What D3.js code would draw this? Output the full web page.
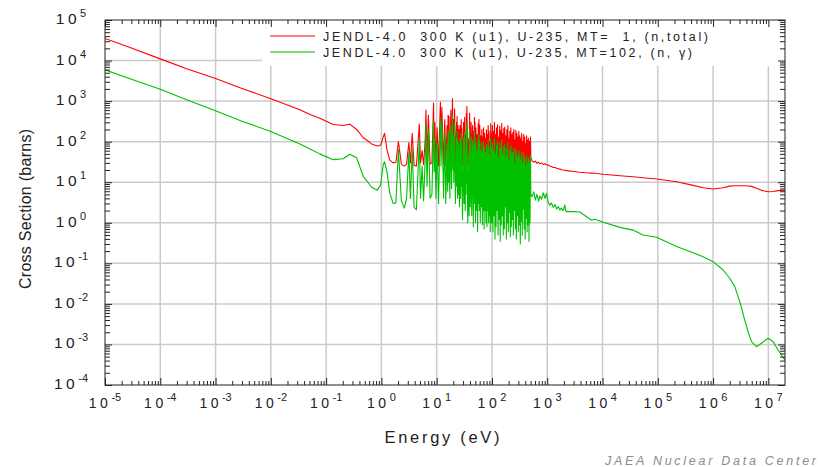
<!DOCTYPE html>
<html>
<head>
<meta charset="utf-8">
<script src="https://cdn.jsdelivr.net/npm/d3@7"></script>
<style>
  body { margin: 0; background: #fff; }
  svg { display: block; }
  text { font-family: "Liberation Sans", Arial, sans-serif; }
</style>
</head>
<body>
<svg id="chart" width="822" height="467"></svg>
<script>
// ---- Evaluated cross sections, U-235 at 300 K (energy in eV, cross sections in barns) ----
const energy = [
  // thermal / 1/v region
  1e-5, 3e-5, 1e-4, 3e-4, 1e-3, 3e-3, 1e-2, 0.0336, 0.051, 0.077, 0.134, 0.204, 0.269, 0.356,
  0.469, 0.54, 0.665, 0.84, 0.967, 1.078, 1.14, 1.27, 1.42, 1.63, 1.83,
  // resolved resonances 2 - 100 eV
  2.03, 2.3, 2.6, 2.85, 3.14, 3.35, 3.61, 3.9, 4.3, 4.85, 5.1, 5.45, 5.8, 6.21, 6.39, 6.7, 7.08,
  7.6, 8.2, 8.78, 9.0, 9.28, 9.7, 10.18, 10.8, 11.66, 12.0, 12.39, 12.86, 13.3, 14.0, 14.6, 15.4,
  15.8, 16.08, 16.4, 16.67, 17.3, 18.05, 18.6, 19.3, 19.8, 20.1, 20.4, 20.6, 20.9, 21.07, 21.8,
  22.9, 23.1, 23.4, 23.9, 24.3, 24.8, 25.3, 25.9, 26.5, 27.1, 27.8, 28.0, 28.3, 29.3, 30.6, 31.3,
  32.1, 32.8, 33.5, 34.0, 34.4, 34.8, 35.2, 36.5, 38.0, 38.6, 39.4, 40.5, 41.9, 43.0, 44.6, 46.0,
  47.0, 47.7, 48.2, 48.8, 49.4, 50.3, 51.3, 52.5, 53.4, 55.0, 56.5, 57.3, 58.1, 59.0, 60.2, 61.5,
  63.0, 64.2, 65.7, 67.0, 68.5, 69.5, 70.5, 72.0, 73.5, 75.0, 76.5, 78.0, 79.5, 81.0, 82.5, 84.0,
  85.5, 87.0, 88.5, 90.0, 91.5, 93.0, 95.0, 97.0, 99.0,
  // resolved resonances 100 - 500 eV
  100, 102, 104, 106.5, 109, 111, 113.5, 116, 118.5, 121, 123.5, 126, 129, 132, 135, 138, 141,
  144, 147, 150, 153, 156.5, 160, 163.5, 167, 170.5, 174, 178, 182, 186, 190, 194, 198, 202, 206,
  210.5, 215, 219.5, 224, 229, 234, 239, 244, 249, 254, 259.5, 265, 270.5, 276, 282, 288, 294,
  300, 306, 312.5, 319, 325.5, 332, 339, 346, 353, 360, 367.5, 375, 383, 391, 399, 407, 415.5,
  424, 432.5, 441, 450, 459, 468.5, 478, 488, 498,
  // unresolved resonance region
  505, 530, 570, 610, 650, 700, 735, 790, 850, 910, 970, 1040, 1110, 1190, 1280, 1380, 1480,
  1590, 1690, 1800, 1940, 2080, 2150, 2230, 3000, 3890, 5000, 6330, 7300,
  // fast region
  1.03e4, 2.06e4, 3.57e4, 5.42e4, 9.5e4, 2.18e5, 4e5, 6.6e5, 1e6, 1.52e6, 2e6, 2.47e6, 3.04e6,
  3.74e6, 4.3e6, 4.95e6, 6.1e6, 7.5e6, 9.9e6, 1.22e7, 1.5e7, 2e7
];

// MT=1, total
const totalXS = [
  35000, 20500, 11000, 6300, 3600, 2050, 1150, 610, 470, 380, 265, 250, 270, 200,
  125, 110, 88, 78, 82, 130, 160, 60, 35, 30, 31,
  100, 28, 25, 28, 95, 30, 160, 26, 25, 270, 30, 60, 27, 120, 600, 40, 450,
  28, 30, 900, 60, 300, 28, 220, 26, 950, 80, 700, 130, 28, 350, 25, 250,
  40, 450, 50, 420, 27, 600, 40, 1150, 90, 350, 60, 300, 80, 650, 27,
  300, 50, 420, 32, 250, 40, 200, 28, 250, 32, 350, 60, 220, 26, 300, 35,
  400, 30, 150, 45, 500, 80, 750, 26, 120, 28, 500, 35, 300, 30, 250, 26,
  180, 35, 400, 55, 300, 26, 220, 30, 150, 25, 280, 35, 350, 30, 250, 26,
  140, 30, 200, 26, 130, 30, 220, 25, 160, 30, 120, 26, 200, 26, 150, 30,
  250, 26, 180, 30, 100, 25, 280, 26, 160,
  25, 250, 30, 180, 22, 300, 35, 150, 28, 220, 20, 260, 32, 130, 26, 240, 24,
  190, 30, 280, 22, 160, 28, 210, 34, 230, 24, 140, 27, 200, 21, 250, 30, 120, 25,
  180, 28, 220, 22, 150, 26, 170, 30, 200, 24, 110, 27, 190, 22, 160, 29, 130,
  25, 180, 23, 140, 28, 120, 24, 160, 26, 100, 22, 150, 27, 130, 25, 90, 23,
  140, 26, 110, 24, 120, 28, 100, 25, 130,
  40, 34, 31, 33, 29.5, 31, 28.5, 30, 27.5, 28.5, 26.6, 26.5, 25, 24.5, 23, 23, 22,
  21.5, 21, 20.5, 20, 19.8, 19.6, 19.3, 18.3, 17.6, 17.1, 16.8, 16.6,
  15.7, 14.5, 13.6, 12.9, 12.0, 10.3, 8.6, 7.3, 6.8, 7.3, 8.0, 8.2, 8.2,
  8.2, 8.1, 7.9, 7.1, 6.3, 5.8, 5.9, 6.2, 6.4
];

// MT=102, (n,gamma)
const captureXS = [
  5900, 3450, 1950, 1080, 580, 320, 178, 88, 66, 50, 36, 38, 49, 40,
  14, 11, 7.5, 6.4, 8.5, 27, 32, 17, 5.4, 3.0, 3.1,
  62, 3.5, 2.3, 4, 55, 4, 70, 2.4, 2.1, 110, 4, 25, 3.5, 40, 260, 8, 200,
  4, 5, 320, 18, 120, 4, 90, 3, 380, 25, 280, 50, 4, 150, 3, 90,
  6, 170, 10, 190, 4, 240, 7, 450, 20, 140, 10, 130, 18, 280, 3,
  120, 8, 180, 4, 100, 5, 80, 2.5, 120, 4, 160, 8, 90, 1.2, 120, 3,
  170, 2, 60, 5, 200, 10, 300, 1.0, 50, 1.5, 200, 2.5, 130, 1.5, 110, 0.8,
  80, 3, 170, 6, 120, 1.0, 90, 2, 60, 0.6, 120, 3, 150, 2, 100, 1,
  60, 2.5, 90, 0.9, 55, 2, 100, 0.7, 70, 2, 50, 1, 85, 0.8, 65, 2,
  110, 1, 75, 1.5, 45, 0.6, 120, 1, 70,
  1.0, 90, 0.6, 60, 1.5, 120, 0.4, 50, 0.8, 80, 2.0, 100, 0.5, 40, 1.2, 90, 0.35,
  70, 0.9, 110, 1.5, 50, 0.5, 75, 0.7, 85, 2.5, 45, 0.4, 70, 1.0, 95, 0.6, 35, 1.8,
  60, 0.45, 80, 0.8, 50, 1.2, 55, 0.5, 70, 2.0, 30, 0.7, 65, 0.4, 50, 1.5, 40,
  0.6, 60, 0.9, 45, 0.3, 35, 1.1, 55, 0.5, 30, 2.2, 50, 0.7, 40, 0.4, 25, 1.3,
  45, 0.6, 30, 0.9, 40, 0.35, 30, 1.0, 45,
  5, 4.4, 5.8, 3.6, 5.0, 3.4, 4.6, 3.8, 5.5, 4.0, 5.3, 3.2, 2.7, 3.1, 2.4, 2.8, 2.2,
  2.5, 2.07, 2.3, 2.0, 2.75, 2.0, 1.88, 1.88, 1.85, 1.45, 1.15, 1.22,
  1.03, 0.77, 0.66, 0.50, 0.44, 0.26, 0.19, 0.146, 0.110, 0.0686, 0.0428, 0.0266, 0.0114,
  0.0040, 0.00207, 0.00117, 0.00088, 0.00107, 0.00142, 0.00117, 0.00073, 0.00041
];

// Axis decades and legend entries
const xTickExps = [-5, -4, -3, -2, -1, 0, 1, 2, 3, 4, 5, 6, 7];
const yTickExps = [-4, -3, -2, -1, 0, 1, 2, 3, 4, 5];
const seriesLabels = [
  "JENDL-4.0  300 K (u1), U-235, MT=  1, (n,total)",
  "JENDL-4.0  300 K (u1), U-235, MT=102, (n, \u03b3)"
];
const seriesColors = ["#ff0000", "#00c000"];

// ---- Layout ----
const svg = d3.select("#chart");
const plot = { left: 105, right: 785, top: 20, bottom: 385 };
const x = d3.scaleLog().domain([1e-5, 2e7]).range([plot.left, plot.right]);
const y = d3.scaleLog().domain([1e-4, 1e5]).range([plot.bottom, plot.top]);

svg.append("rect").attr("width", 822).attr("height", 467).attr("fill", "#fff");

// decade grid
const grid = svg.append("g").attr("stroke", "#cbcbcb").attr("stroke-width", 1.5);
xTickExps.map(e => 10 ** e).filter(v => v > 1e-5 && v < 2e7).forEach(v => {
  grid.append("line").attr("x1", x(v)).attr("x2", x(v))
    .attr("y1", plot.top).attr("y2", plot.bottom);
});
yTickExps.map(e => 10 ** e).filter(v => v > 1e-4 && v < 1e5).forEach(v => {
  grid.append("line").attr("x1", plot.left).attr("x2", plot.right)
    .attr("y1", y(v)).attr("y2", y(v));
});

// legend background
svg.append("rect").attr("x", 262).attr("y", plot.top + 1)
  .attr("width", plot.right - 262 - 1).attr("height", 45).attr("fill", "#fff");

// curves
svg.append("clipPath").attr("id", "plotClip").append("rect")
  .attr("x", plot.left).attr("y", plot.top)
  .attr("width", plot.right - plot.left).attr("height", plot.bottom - plot.top);

const line = d3.line().x(d => x(d[0])).y(d => y(d[1]));
const curves = svg.append("g").attr("clip-path", "url(#plotClip)");
[totalXS, captureXS].forEach((vals, i) => {
  curves.append("path")
    .datum(energy.map((e, k) => [e, vals[k]]))
    .attr("d", line)
    .attr("fill", "none")
    .attr("stroke", seriesColors[i])
    .attr("stroke-width", 1.1)
    .attr("stroke-linejoin", "round");
});

// frame
svg.append("rect").attr("x", plot.left).attr("y", plot.top)
  .attr("width", plot.right - plot.left).attr("height", plot.bottom - plot.top)
  .attr("fill", "none").attr("stroke", "#222").attr("stroke-width", 1);

// ticks (pointing into the plot on all four sides)
function minorValues(exps, lo, hi) {
  const out = [];
  exps.forEach(e => [2, 3, 4, 5, 6, 7, 8, 9].forEach(m => {
    const v = m * 10 ** e;
    if (v > lo && v < hi) out.push(v);
  }));
  return out;
}
const xMinor = minorValues(xTickExps, 1e-5, 2e7);
const yMinor = minorValues(yTickExps, 1e-4, 1e5);
const xMajor = xTickExps.map(e => 10 ** e);
const yMajor = yTickExps.map(e => 10 ** e);

function drawAxis(axisFn, scale, values, size, transform) {
  const g = svg.append("g").attr("transform", transform)
    .call(axisFn(scale).tickValues(values).tickSizeInner(-size).tickSizeOuter(0).tickFormat(""));
  g.select(".domain").remove();
  g.selectAll(".tick line").attr("stroke", "#222");
}
drawAxis(d3.axisBottom, x, xMinor, 4, `translate(0,${plot.bottom})`);
drawAxis(d3.axisBottom, x, xMajor, 7, `translate(0,${plot.bottom})`);
drawAxis(d3.axisTop, x, xMinor, 4, `translate(0,${plot.top})`);
drawAxis(d3.axisTop, x, xMajor, 7, `translate(0,${plot.top})`);
drawAxis(d3.axisLeft, y, yMinor, 5, `translate(${plot.left},0)`);
drawAxis(d3.axisLeft, y, yMajor, 7, `translate(${plot.left},0)`);
drawAxis(d3.axisRight, y, yMinor, 5, `translate(${plot.right},0)`);
drawAxis(d3.axisRight, y, yMajor, 7, `translate(${plot.right},0)`);

// tick labels: 10 with superscript exponent
function powerLabel(sel, exp, base, sup) {
  sel.append("tspan").attr("font-size", base).attr("letter-spacing", 3.5).text("10");
  sel.append("tspan").attr("font-size", sup).attr("dy", -7).text(String(exp));
}
xTickExps.forEach(e => {
  const t = svg.append("text").attr("x", x(10 ** e)).attr("y", 408)
    .attr("text-anchor", "middle").attr("fill", "#222");
  powerLabel(t, e, 14, 11);
});
yTickExps.forEach(e => {
  const t = svg.append("text").attr("x", 71).attr("y", y(10 ** e) + 4)
    .attr("text-anchor", "middle").attr("fill", "#222");
  powerLabel(t, e, 15.5, 11);
});

// axis titles
svg.append("text").attr("x", 442).attr("y", 443)
  .attr("text-anchor", "middle").attr("font-size", 16.5).attr("fill", "#222")
  .attr("textLength", 115).attr("lengthAdjust", "spacing")
  .text("Energy (eV)");
svg.append("text").attr("transform", "translate(31,209) rotate(-90)")
  .attr("text-anchor", "middle").attr("font-size", 16).attr("fill", "#222")
  .attr("textLength", 160).attr("lengthAdjust", "spacing")
  .text("Cross Section (barns)");

// legend
const legendRows = [{ y: 36, base: 40.7, len: 385 }, { y: 52, base: 56.7, len: 369 }];
legendRows.forEach((r, i) => {
  svg.append("line").attr("x1", 270).attr("x2", 315).attr("y1", r.y).attr("y2", r.y)
    .attr("stroke", seriesColors[i]).attr("stroke-width", 1.1);
  svg.append("text").attr("x", 323).attr("y", r.base)
    .attr("font-size", 12.5).attr("fill", "#222")
    .style("white-space", "pre")
    .attr("textLength", r.len).attr("lengthAdjust", "spacing")
    .text(seriesLabels[i]);
});

// credit line
svg.append("text").attr("x", 605).attr("y", 465)
  .attr("font-size", 12.5).attr("font-style", "italic").attr("fill", "#8c8c8c")
  .attr("textLength", 211).attr("lengthAdjust", "spacing")
  .text("JAEA Nuclear Data Center");
</script>
</body>
</html>
